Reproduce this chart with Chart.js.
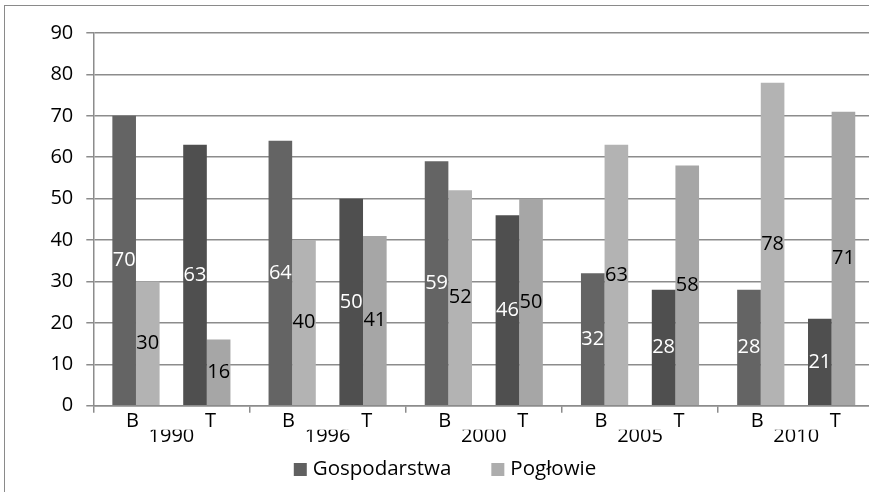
<!DOCTYPE html>
<html>
<head>
<meta charset="utf-8">
<script src="https://cdn.jsdelivr.net/npm/chart.js@4/dist/chart.umd.min.js"></script>
<style>
  html, body { margin: 0; padding: 0; width: 869px; height: 492px; overflow: hidden; background: #fff; }
  #wrap { position: absolute; left: 0; top: 0; width: 885px; height: 490px; }
  #frame { position: absolute; left: 4px; top: 5px; width: 900px; height: 600px;
           border-left: 1.5px solid #8a8a8a; border-top: 1.5px solid #8a8a8a; pointer-events: none; }
</style>
</head>
<body>
<div id="wrap"><canvas id="chart"></canvas></div>
<div id="frame"></div>
<script>
const years = ["1990", "1996", "2000", "2005", "2010"];
const subLabels = ["B", "T"];
const gospodarstwaB = [70, 64, 59, 32, 28];
const gospodarstwaT = [63, 50, 46, 28, 21];
const poglowieB = [30, 40, 52, 63, 78];
const poglowieT = [16, 41, 50, 58, 71];
const yTicks = [0, 10, 20, 30, 40, 50, 60, 70, 80, 90];

const gridGray = "#8c8c8c";
const fontFamily = "'Open Sans', sans-serif";
const tickFont = { family: fontFamily, size: 20, lineHeight: 1 };
Chart.defaults.font.family = fontFamily;
Chart.defaults.font.size = 20;
Chart.defaults.color = "#000";

// B and T under every year
const btLabels = [];
years.forEach(() => subLabels.forEach(s => btLabels.push(s)));

// values written in the middle of each bar
const barValueLabels = {
  id: "barValueLabels",
  afterDatasetsDraw(chart) {
    const ctx = chart.ctx;
    ctx.save();
    ctx.font = "20px " + fontFamily;
    ctx.textAlign = "center";
    ctx.textBaseline = "middle";
    chart.data.datasets.forEach((ds, i) => {
      if (!ds.labelColor) return;
      chart.getDatasetMeta(i).data.forEach((bar, j) => {
        const v = ds.data[j];
        if (v == null) return;
        ctx.fillStyle = ds.labelColor;
        ctx.fillText(v, bar.x, (bar.y + bar.base) / 2);
      });
    });
    ctx.restore();
  }
};

// legend under the axis: only the two series names, wide gap between them
const bottomLegend = {
  id: "bottomLegend",
  afterDraw(chart) {
    const ctx = chart.ctx;
    const items = chart.data.datasets.slice(0, 2);
    const box = 13, textGap = 6, itemGap = 40, y = 469.5;
    ctx.save();
    ctx.font = "20.5px " + fontFamily;
    ctx.textBaseline = "middle";
    const widths = items.map(d => box + textGap + ctx.measureText(d.label).width);
    const total = widths.reduce((a, b) => a + b, 0) + itemGap * (items.length - 1);
    let x = 445 - total / 2;
    items.forEach((d, i) => {
      ctx.fillStyle = d.legendColor;
      ctx.fillRect(x, y - box / 2, box, box);
      ctx.fillStyle = "#000";
      ctx.fillText(d.label, x + box + textGap, y);
      x += widths[i] + itemGap;
    });
    ctx.restore();
  }
};

new Chart(document.getElementById("chart"), {
  type: "bar",
  data: {
    labels: years,
    datasets: [
      { label: "Gospodarstwa", data: gospodarstwaB, backgroundColor: "#646464", labelColor: "#fff", legendColor: "#606060" },
      { label: "Pogłowie", data: poglowieB, backgroundColor: "#b3b3b3", labelColor: "#000", legendColor: "#adadad" },
      { label: "", data: [null, null, null, null, null] },
      { label: "Gospodarstwa", data: gospodarstwaT, backgroundColor: "#4f4f4f", labelColor: "#fff" },
      { label: "Pogłowie", data: poglowieT, backgroundColor: "#a6a6a6", labelColor: "#000" }
    ]
  },
  options: {
    responsive: true,
    maintainAspectRatio: false,
    animation: false,
    categoryPercentage: 0.756,
    barPercentage: 1.0,
    layout: { padding: { top: 33, right: 10.7, left: 0, bottom: 40.3 } },
    scales: {
      y: {
        min: 0,
        max: 90,
        afterBuildTicks: s => { s.ticks = yTicks.map(v => ({ value: v })); },
        afterFit: s => { s.width = 93.3; },
        grid: { color: gridGray, lineWidth: 1.5, tickLength: 7 },
        border: { color: gridGray, width: 1.5 },
        ticks: { color: "#000", padding: 13, font: tickFont }
      },
      x: {
        weight: 1,
        grid: { display: false, drawTicks: false },
        border: { display: false },
        afterFit: s => { s.height = 20; },
        ticks: { color: "#000", padding: -3, maxRotation: 0, font: tickFont }
      },
      xSub: {
        type: "category",
        labels: btLabels,
        position: "bottom",
        offset: true,
        weight: 0,
        afterFit: s => { s.height = 24; },
        grid: {
          offset: true,
          drawOnChartArea: false,
          tickLength: 7,
          lineWidth: 1.5,
          color: c => (c.index % 2 === 0 ? gridGray : "rgba(0,0,0,0)")
        },
        border: { color: gridGray, width: 1.5 },
        ticks: { color: "#000", padding: -1, autoSkip: false, maxRotation: 0, font: tickFont }
      }
    },
    plugins: {
      legend: { display: false },
      tooltip: { enabled: false }
    }
  },
  plugins: [barValueLabels, bottomLegend]
});
</script>
</body>
</html>
